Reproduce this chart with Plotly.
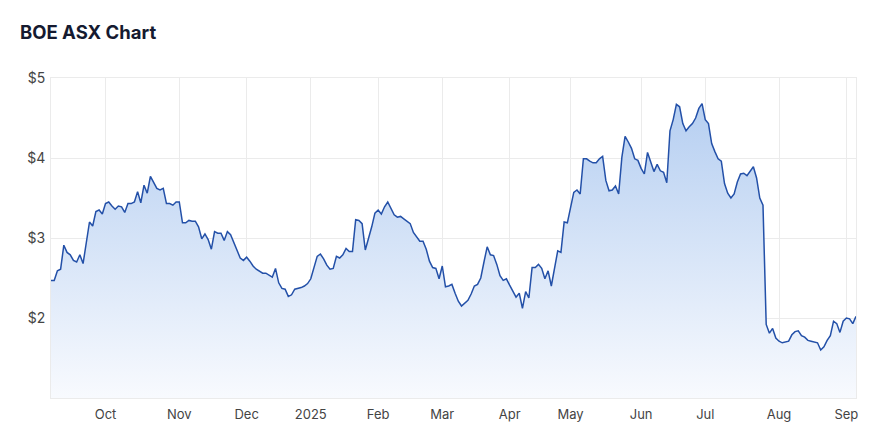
import pandas as pd
import plotly.graph_objects as go

# ---- data ----
start_date = "2024-09-06"
end_date = "2025-09-04"
asx_holidays = ["2024-12-25", "2024-12-26", "2025-01-01", "2025-01-27",
                "2025-04-18", "2025-04-21", "2025-04-25", "2025-06-09"]

prices = [
    2.47, 2.47, 2.59, 2.61, 2.91, 2.82, 2.79, 2.72, 2.70, 2.79,
    2.68, 2.95, 3.20, 3.15, 3.33, 3.35, 3.30, 3.43, 3.45, 3.40,
    3.36, 3.40, 3.39, 3.32, 3.43, 3.43, 3.45, 3.58, 3.44, 3.66,
    3.56, 3.77, 3.69, 3.62, 3.60, 3.62, 3.43, 3.43, 3.41, 3.45,
    3.45, 3.19, 3.19, 3.22, 3.21, 3.21, 3.14, 2.99, 3.05, 2.98,
    2.86, 3.08, 3.06, 3.06, 2.97, 3.08, 3.04, 2.95, 2.85, 2.75,
    2.72, 2.76, 2.71,
    2.65, 2.61, 2.58, 2.56, 2.56, 2.53, 2.51, 2.62, 2.44, 2.37,
    2.36, 2.27, 2.29, 2.36, 2.37, 2.38, 2.40, 2.43, 2.49, 2.62,
    2.77, 2.80, 2.74, 2.66, 2.61, 2.62, 2.77, 2.75, 2.79, 2.87,
    2.83, 2.83, 3.23, 3.22, 3.18, 2.85, 2.99, 3.14, 3.31, 3.35,
    3.30, 3.39, 3.45, 3.36, 3.29, 3.26, 3.27, 3.24, 3.21, 3.18,
    3.07, 3.02, 2.96, 2.96, 2.86, 2.71, 2.63, 2.62, 2.49, 2.65,
    2.39, 2.40,
    2.42, 2.31, 2.21, 2.15, 2.18, 2.22, 2.30, 2.40, 2.42, 2.50,
    2.70, 2.89, 2.79, 2.78, 2.67, 2.53, 2.47, 2.49, 2.41, 2.33,
    2.26, 2.31, 2.12, 2.33, 2.25, 2.63, 2.63, 2.67, 2.62, 2.49,
    2.59, 2.40, 2.61, 2.84, 2.82, 3.20, 3.19, 3.39, 3.57, 3.60,
    3.55, 3.99, 3.99, 3.96, 3.94, 3.94, 3.99, 4.02, 3.72, 3.59,
    3.60, 3.65, 3.55, 4.01, 4.27, 4.20, 4.12, 3.99, 3.97, 3.87,
    3.80, 4.07,
    3.94, 3.83, 3.92, 3.84, 3.82, 3.69, 4.34, 4.48, 4.67, 4.64,
    4.43, 4.34, 4.39, 4.43, 4.50, 4.62, 4.68, 4.48, 4.43, 4.18,
    4.08, 3.99, 3.96, 3.68, 3.56, 3.50, 3.55, 3.70, 3.80, 3.81,
    3.78, 3.84, 3.89, 3.75, 3.50, 3.41, 1.92, 1.81, 1.87, 1.75,
    1.71, 1.69, 1.70, 1.71, 1.79, 1.83, 1.84, 1.78, 1.76, 1.72,
    1.71, 1.70, 1.69, 1.60, 1.64, 1.72, 1.78, 1.96, 1.93, 1.82,
    1.96, 2.00, 1.99, 1.93, 2.02,
]

tick_labels = ["Oct", "Nov", "Dec", "2025", "Feb", "Mar", "Apr", "May",
               "Jun", "Jul", "Aug", "Sep"]
y_ticks = [2, 3, 4, 5]
y_tick_labels = ["$2", "$3", "$4", "$5"]

# ---- trading-day dates ----
dates = pd.bdate_range(start_date, end_date)
dates = dates[~dates.isin(pd.to_datetime(asx_holidays))]
n = min(len(dates), len(prices))
dates = dates[:n]
prices = prices[:n]

# first trading day of each month (Oct..Sep) for ticks
s = pd.Series(dates)
firsts = s.groupby([s.dt.year, s.dt.month]).min().tolist()
tick_vals = firsts[1:1 + len(tick_labels)]

fig = go.Figure()
fig.add_trace(go.Scatter(
    x=dates, y=prices, mode="lines",
    line=dict(color="#2350a8", width=1.5),
    fill="tozeroy",
    fillgradient=dict(
        type="vertical",
        colorscale=[[0, "rgb(248,250,254)"], [1, "rgb(176,203,240)"]],
        start=1, stop=5,
    ),
    hoverinfo="skip",
))

W, H = 880, 425
off = 8  # page body margin
grid = "#ebebeb"
fig.update_layout(
    width=W, height=H,
    margin=dict(l=51 - off, r=W - (856 - off), t=78 - off, b=H - (398 - off)),
    paper_bgcolor="white", plot_bgcolor="white",
    showlegend=False,
    font=dict(family="Inter, Roboto, sans-serif", size=13, color="#444"),
    title=dict(text="<b>BOE ASX Chart</b>", x=(20 - off) / W, xref="container",
               y=1 - (33 - off) / H, yref="container", yanchor="middle", xanchor="left",
               font=dict(family="Inter, sans-serif", size=18.5, color="#151a30")),
)
fig.update_xaxes(
    range=[dates[0], dates[-1]],
    rangebreaks=[dict(bounds=["sat", "mon"]), dict(values=asx_holidays)],
    tickmode="array", tickvals=tick_vals, ticktext=tick_labels,
    showgrid=True, gridcolor=grid, gridwidth=1,
    showline=True, linecolor=grid, mirror=True,
    ticks="outside", ticklen=4, tickcolor="rgba(0,0,0,0)", zeroline=False,
    tickfont=dict(size=13, color="#444"),
)
fig.update_yaxes(
    range=[1, 5],
    tickmode="array", tickvals=y_ticks, ticktext=y_tick_labels,
    showgrid=True, gridcolor=grid, gridwidth=1,
    showline=True, linecolor=grid, mirror=True,
    ticks="outside", ticklen=2, tickcolor="rgba(0,0,0,0)",
    zeroline=False,
    tickfont=dict(size=14, color="#444"),
)

fig.write_html("out.html")
